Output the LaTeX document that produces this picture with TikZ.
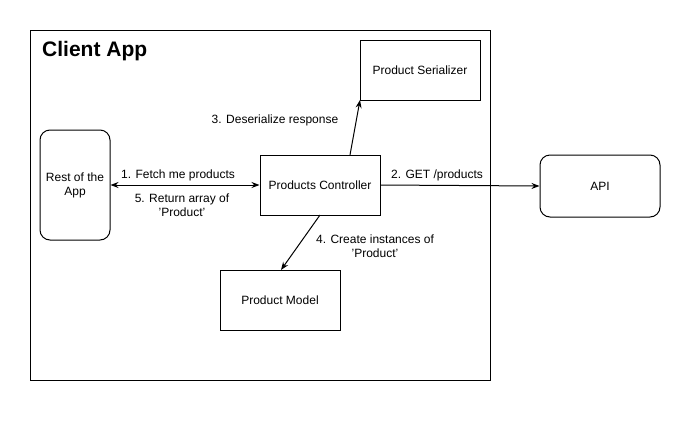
\documentclass[tikz,border=0pt]{standalone}
\usepackage{fontspec}
\setmainfont{Liberation Sans}
\usetikzlibrary{arrows.meta}
\begin{document}
\begin{tikzpicture}[x=1pt,y=-1pt,
  every node/.style={font=\fontsize{12}{14}\selectfont},
  box/.style={draw,line width=1pt,inner sep=0pt,align=center},
  rbox/.style={box,rounded corners=10pt},
  lbl/.style={inner sep=0pt,align=center,fill=white},
  conn/.style={line width=1pt,-{Stealth[length=8pt,width=6pt]}}]
\useasboundingbox (0,0) rectangle (691,421);
\node[box,minimum width=460pt,minimum height=350pt] (app) at (260,205) {};
\node[anchor=west,inner sep=0pt,font=\fontsize{21}{25}\selectfont\bfseries] (title) at (42,51) {Client App};
\node[box,minimum width=120pt,minimum height=60pt] (ser) at (420,70) {Product Serializer};
\node[rbox,minimum width=70pt,minimum height=110pt] (rest) at (75,185) {Rest of the\\App};
\node[box,minimum width=120pt,minimum height=60pt] (ctrl) at (320,185) {Products Controller};
\node[rbox,minimum width=120pt,minimum height=62pt] (api) at (600,186) {API};
\node[box,minimum width=120pt,minimum height=60pt] (model) at (280,300) {Product Model};
\coordinate (ctop) at (350,155);
\coordinate (sbot) at (360,100);
\coordinate (cbot) at (320,215);
\coordinate (mtop) at (281,270);
\draw[conn,{Stealth[length=8pt,width=6pt]}-{Stealth[length=8pt,width=6pt]}] (rest.east |- 0,185) -- (ctrl.west);
\draw[conn] (ctrl.east) -- (api.west);
\draw[conn] (ctop) -- (sbot);
\draw[conn] (cbot) -- (mtop);
\node[lbl] (l1) at (178,175) {1. Fetch me products};
\node[lbl] (l5) at (182,205) {5. Return array of\\'Product'};
\node[lbl] (l2) at (437,175) {2. GET /products};
\node[lbl] (l3) at (275,120) {3. Deserialize response};
\node[lbl] (l4) at (375,246) {4. Create instances of\\'Product'};
\end{tikzpicture}
\end{document}
